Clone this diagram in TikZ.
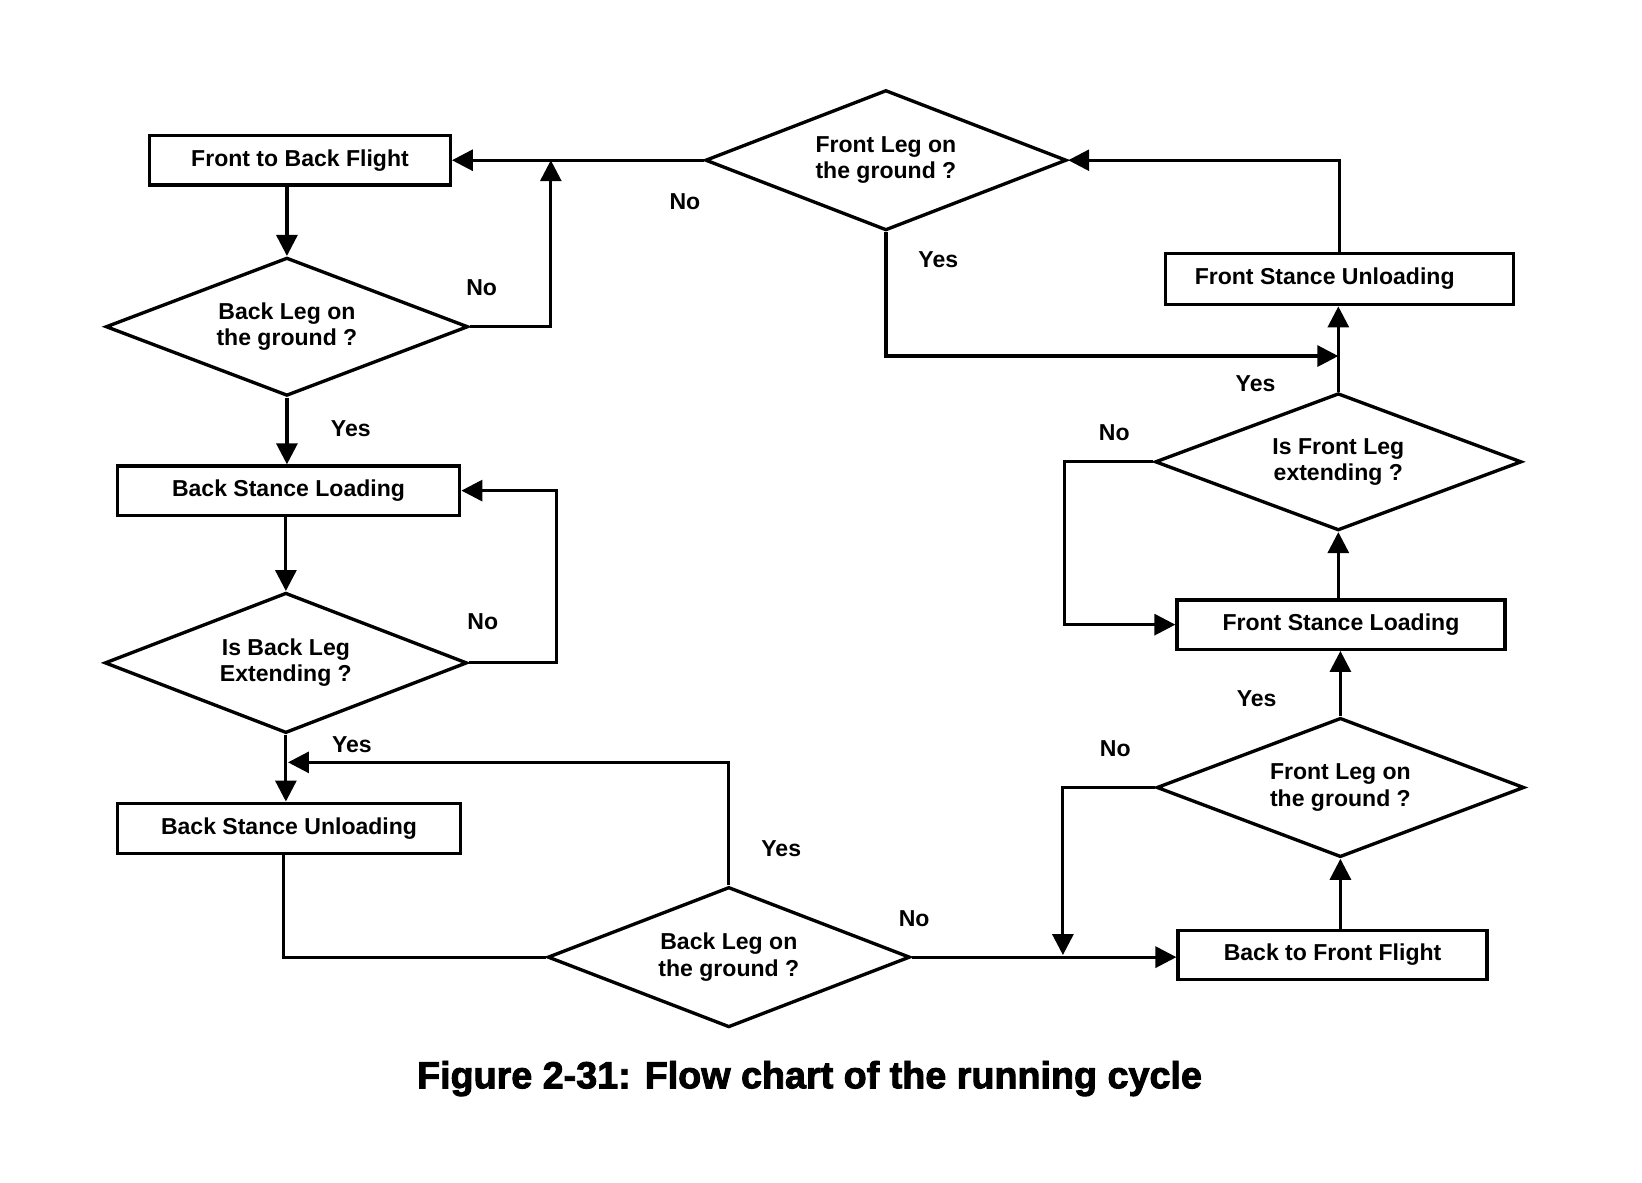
\documentclass[tikz,border=0pt]{standalone}
\usepackage{fontspec}
\setmainfont{Liberation Sans}
\newfontfamily\capfont[FakeBold=2.5]{Liberation Sans Bold}
\usetikzlibrary{shapes.geometric,arrows.meta}
\begin{document}
\begin{tikzpicture}[x=0.5pt,y=-0.5pt,
  every node/.style={font=\fontsize{11}{12.5}\selectfont\bfseries},
  procbox/.style={draw,line width=1.6pt,rectangle,inner sep=0pt,minimum height=23.5pt},
  decision/.style={draw,line width=1.6pt,diamond,inner sep=0pt,aspect=2.6,align=center,minimum width=173pt,minimum height=66pt},
  flow/.style={line width=1.5pt,-{Triangle[length=10pt,width=10pt]}},
  plain/.style={line width=1.5pt},
  lbl/.style={inner sep=0pt}
]
\useasboundingbox (0,0) rectangle (1568,1129);

% process boxes
\node[procbox,minimum width=143.5pt] (fbf) at (286.5,153) {Front to Back Flight};
\node[procbox,minimum width=163.5pt] (bsl) at (275.5,468.5) {Back Stance Loading};
\node[procbox,minimum width=164pt,minimum height=24pt] (bsu) at (276,791) {Back Stance Unloading};
\node[procbox,minimum width=166pt,minimum height=24.5pt] (fsu) at (1279,266.5) {Front Stance Unloading\kern14pt};
\node[procbox,minimum width=156.5pt] (fsl) at (1280.5,596.5) {Front Stance Loading};
\node[procbox,minimum width=147.5pt] (bff) at (1272.5,912) {Back to Front Flight};

% decisions
\node[decision] (d1) at (274,312) {Back Leg on\\the ground ?};
\node[decision,minimum width=172.5pt,minimum height=67pt] (d2) at (846,153) {Front Leg on\\the ground ?};
\node[decision,minimum width=175pt,minimum height=65.5pt] (d3) at (1278,441) {Is Front Leg\\extending ?};
\node[decision,minimum width=175.5pt,minimum height=66.5pt] (d4) at (1280,752) {Front Leg on\\the ground ?};
\node[decision,minimum height=67pt] (d5) at (696,914) {Back Leg on\\the ground ?};
\node[decision,minimum height=67pt] (d6) at (273,633) {Is Back Leg\\Extending ?};

% junction coordinates
\coordinate (j1) at (526,153);
\coordinate (j2) at (275,728);
\coordinate (j3) at (1015,912);
\coordinate (j4) at (1278,340);
\coordinate (j5) at (271,815);

% connectors
\draw[flow] (d1.north |- fbf.south) -- (d1.north);
\draw[flow] (d1.east) -| (j1);
\draw[flow] (d2.west) -- (fbf.east);
\draw[flow] (d1.south) -- (d1.south |- bsl.north);
\draw[flow] (d6.north |- bsl.south) -- (d6.north);
\draw[flow] (d6.east) -- ++(84,0) |- (bsl.east);
\draw[flow] (d6.south) -- (d6.south |- bsu.north);
\draw[flow] (d5.north) |- (j2);
\draw[plain] (j5) |- (d5.west);
\draw[flow] (d5.east) -- (d5.east -| bff.west);
\draw[flow] (d4.west) -| (j3);
\draw[flow] (d4.south |- bff.north) -- (d4.south);
\draw[flow] (d4.north) -- (d4.north |- fsl.south);
\draw[flow] (d3.south |- fsl.north) -- (d3.south);
\draw[flow] (d3.west) -- ++(-85,0) |- (fsl.west);
\draw[flow] (d3.north) -- (d3.north |- fsu.south);
\draw[flow] (d2.south) |- (j4);
\draw[flow] (fsu.north) |- (d2.east);

% labels
\node[lbl] (l1) at (460,275) {No};
\node[lbl] (l2) at (654,193) {No};
\node[lbl] (l3) at (896,248) {Yes};
\node[lbl] (l4) at (1199,366) {Yes};
\node[lbl] (l5) at (1064,413) {No};
\node[lbl] (l6) at (1200,667) {Yes};
\node[lbl] (l7) at (1065,715) {No};
\node[lbl] (l8) at (746,810) {Yes};
\node[lbl] (l9) at (873,877) {No};
\node[lbl] (l10) at (335,409) {Yes};
\node[lbl] (l11) at (461,594) {No};
\node[lbl] (l12) at (336,711) {Yes};

% caption
\node[lbl,font=\capfont\fontsize{18}{22}\selectfont] (cap) at (773,1030) {Figure 2-31: Flow chart of the running cycle};
\end{tikzpicture}
\end{document}
